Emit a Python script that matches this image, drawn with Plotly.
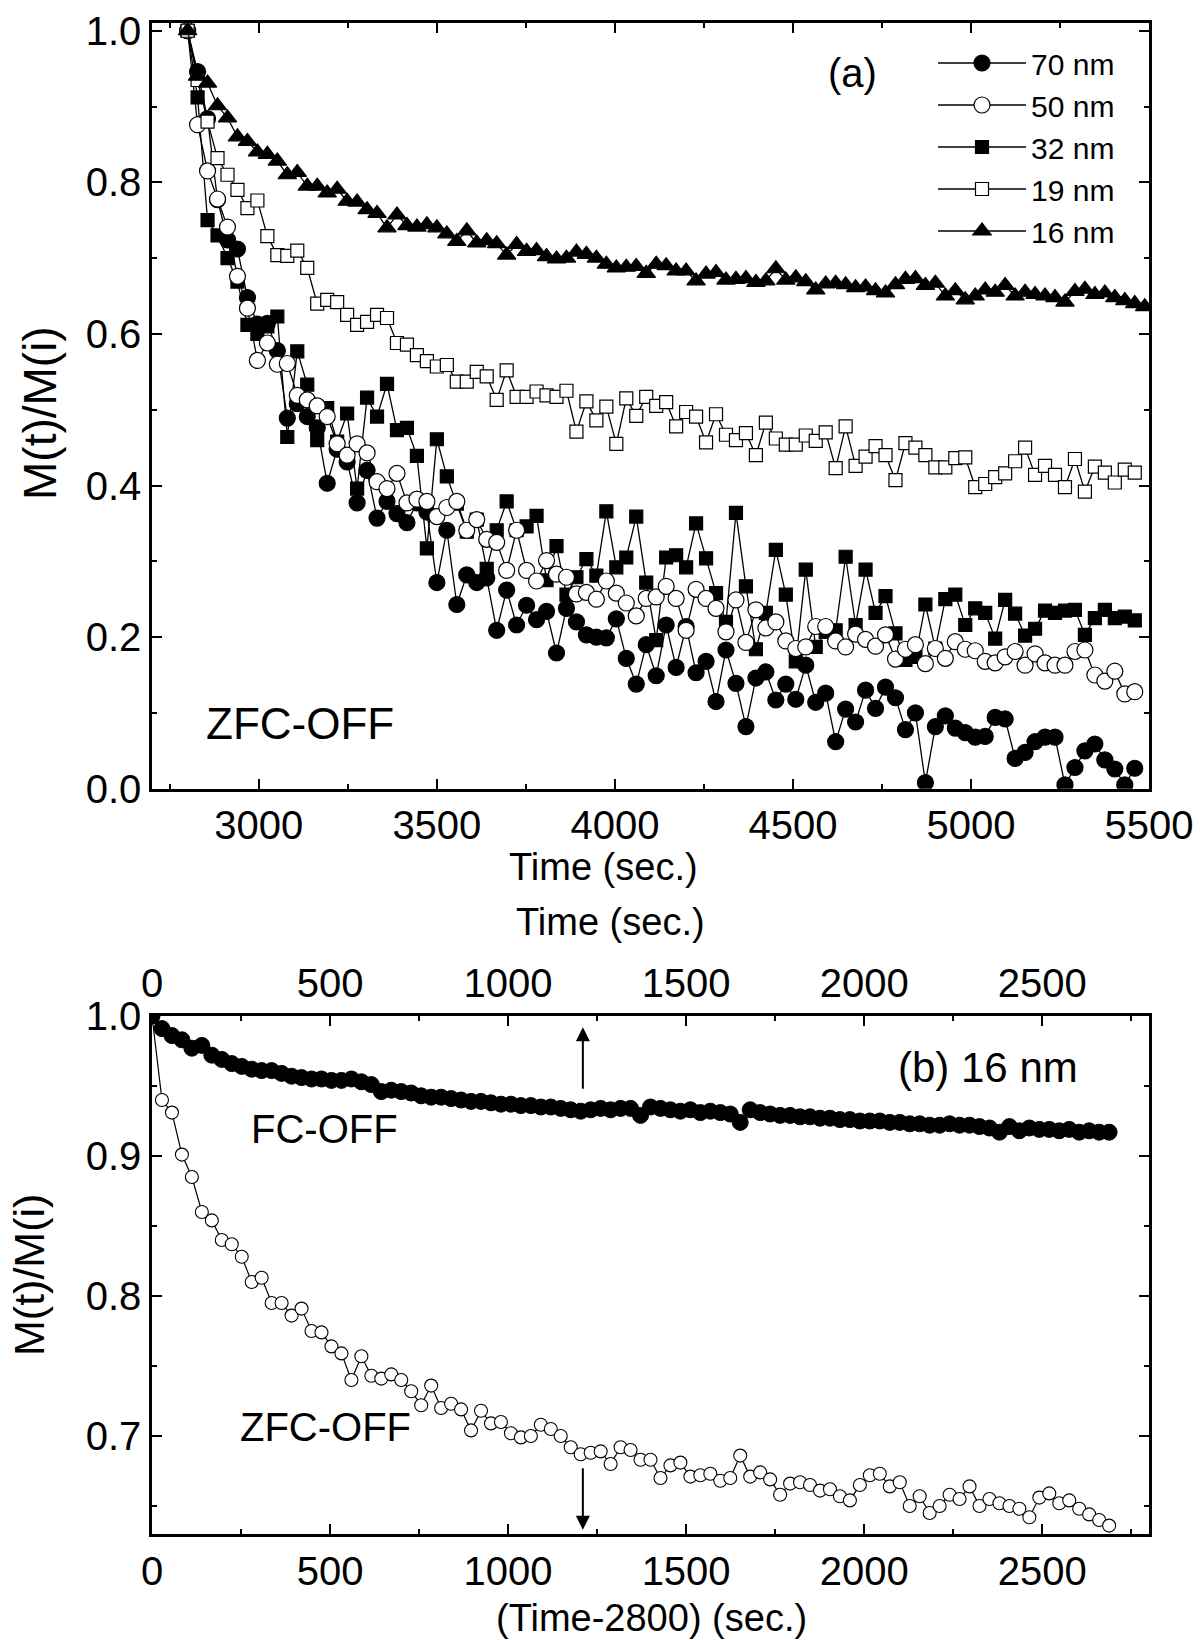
import plotly.graph_objects as go

# ---------------- data ----------------
t_rel = [0, 28, 56, 84, 112, 140, 168, 196, 224, 252, 280, 308, 336, 364, 392, 420,
         448, 476, 504, 532, 560, 588, 616, 644, 672, 700, 728, 756, 784, 812, 840,
         868, 896, 924, 952, 980, 1008, 1036, 1064, 1092, 1120, 1148, 1176, 1204,
         1232, 1260, 1288, 1316, 1344, 1372, 1400, 1428, 1456, 1484, 1512, 1540,
         1568, 1596, 1624, 1652, 1680, 1708, 1736, 1764, 1792, 1820, 1848, 1876,
         1904, 1932, 1960, 1988, 2016, 2044, 2072, 2100, 2128, 2156, 2184, 2212,
         2240, 2268, 2296, 2324, 2352, 2380, 2408, 2436, 2464, 2492, 2520, 2548,
         2576, 2604, 2632, 2660, 2688]
time_offset = 2800
time_top = [time_offset + t for t in t_rel]

m70 = [1.0, 0.946, 0.884, 0.777, 0.724, 0.712, 0.648, 0.613, 0.614, 0.578,
       0.489, 0.508, 0.491, 0.476, 0.403, 0.448, 0.431, 0.377, 0.420, 0.357,
       0.379, 0.363, 0.351, 0.377, 0.365, 0.272, 0.341, 0.243, 0.282, 0.272,
       0.278, 0.209, 0.262, 0.216, 0.242, 0.223, 0.234, 0.179, 0.238, 0.220,
       0.203, 0.200, 0.199, 0.224, 0.172, 0.138, 0.190, 0.149, 0.216, 0.160,
       0.214, 0.153, 0.168, 0.115, 0.183, 0.139, 0.082, 0.146, 0.154, 0.117,
       0.138, 0.118, 0.163, 0.114, 0.126, 0.062, 0.105, 0.088, 0.130, 0.106,
       0.134, 0.120, 0.078, 0.100, 0.008, 0.082, 0.096, 0.080, 0.074, 0.068,
       0.069, 0.094, 0.092, 0.040, 0.048, 0.062, 0.068, 0.068, 0.005, 0.028,
       0.050, 0.059, 0.038, 0.026, 0.005, 0.027]

m50 = [1.0, 0.876, 0.815, 0.778, 0.741, 0.676, 0.634, 0.565, 0.588, 0.560,
       0.561, 0.519, 0.513, 0.505, 0.491, 0.455, 0.440, 0.455, 0.443, 0.405,
       0.396, 0.416, 0.377, 0.382, 0.379, 0.359, 0.371, 0.379, 0.341, 0.355,
       0.329, 0.325, 0.288, 0.341, 0.288, 0.274, 0.301, 0.283, 0.279, 0.257,
       0.259, 0.250, 0.274, 0.258, 0.245, 0.228, 0.251, 0.253, 0.267, 0.251,
       0.209, 0.263, 0.251, 0.238, 0.207, 0.249, 0.193, 0.236, 0.212, 0.220,
       0.195, 0.185, 0.187, 0.214, 0.214, 0.195, 0.187, 0.204, 0.197, 0.188,
       0.203, 0.171, 0.184, 0.190, 0.165, 0.185, 0.172, 0.194, 0.184, 0.182,
       0.168, 0.166, 0.174, 0.181, 0.163, 0.178, 0.166, 0.163, 0.163, 0.181,
       0.183, 0.150, 0.142, 0.155, 0.125, 0.128]

m32 = [1.0, 0.912, 0.750, 0.730, 0.700, 0.669, 0.612, 0.600, 0.610, 0.623,
       0.464, 0.577, 0.533, 0.460, 0.502, 0.458, 0.495, 0.396, 0.516, 0.491,
       0.534, 0.473, 0.476, 0.439, 0.317, 0.461, 0.412, 0.376, 0.339, 0.355,
       0.290, 0.341, 0.379, 0.341, 0.346, 0.360, 0.275, 0.320, 0.256, 0.279,
       0.303, 0.281, 0.366, 0.292, 0.305, 0.359, 0.272, 0.196, 0.305, 0.308,
       0.292, 0.350, 0.304, 0.258, 0.220, 0.364, 0.267, 0.184, 0.232, 0.315,
       0.256, 0.168, 0.289, 0.187, 0.207, 0.209, 0.306, 0.216, 0.289, 0.232,
       0.254, 0.205, 0.170, 0.174, 0.243, 0.185, 0.250, 0.256, 0.216, 0.238,
       0.232, 0.198, 0.249, 0.231, 0.202, 0.211, 0.235, 0.232, 0.235, 0.236,
       0.203, 0.225, 0.236, 0.225, 0.227, 0.222]

m19 = [1.0, 0.935, 0.880, 0.832, 0.810, 0.790, 0.766, 0.776, 0.729, 0.704,
       0.703, 0.710, 0.687, 0.640, 0.645, 0.642, 0.625, 0.612, 0.616, 0.625,
       0.621, 0.588, 0.586, 0.572, 0.564, 0.557, 0.559, 0.537, 0.537, 0.550,
       0.544, 0.513, 0.552, 0.517, 0.517, 0.524, 0.519, 0.517, 0.525, 0.471,
       0.511, 0.486, 0.504, 0.455, 0.515, 0.492, 0.517, 0.505, 0.510, 0.478,
       0.497, 0.491, 0.457, 0.494, 0.467, 0.460, 0.469, 0.440, 0.483, 0.462,
       0.454, 0.454, 0.466, 0.459, 0.470, 0.423, 0.478, 0.426, 0.438, 0.452,
       0.440, 0.407, 0.456, 0.450, 0.440, 0.424, 0.424, 0.436, 0.437, 0.398,
       0.402, 0.411, 0.416, 0.432, 0.450, 0.414, 0.426, 0.414, 0.398, 0.435,
       0.392, 0.425, 0.417, 0.404, 0.421, 0.417]

m16_zfc = [1.0, 0.940, 0.931, 0.901, 0.885, 0.860, 0.854, 0.840, 0.837, 0.828,
           0.810, 0.813, 0.795, 0.795, 0.786, 0.791, 0.775, 0.774, 0.764, 0.759,
           0.740, 0.757, 0.743, 0.741, 0.744, 0.740, 0.732, 0.722, 0.736, 0.720,
           0.723, 0.719, 0.704, 0.718, 0.709, 0.710, 0.702, 0.699, 0.700, 0.708,
           0.705, 0.700, 0.692, 0.687, 0.688, 0.689, 0.680, 0.692, 0.690, 0.683,
           0.683, 0.670, 0.679, 0.681, 0.671, 0.672, 0.673, 0.668, 0.670, 0.686,
           0.671, 0.674, 0.669, 0.658, 0.666, 0.667, 0.665, 0.661, 0.662, 0.657,
           0.654, 0.665, 0.672, 0.673, 0.664, 0.667, 0.650, 0.657, 0.645, 0.650,
           0.658, 0.655, 0.664, 0.650, 0.655, 0.652, 0.650, 0.648, 0.642, 0.656,
           0.659, 0.652, 0.654, 0.648, 0.644, 0.640, 0.636]

m16_fc = [1.0, 0.991, 0.986, 0.983, 0.977, 0.979, 0.972, 0.969, 0.966, 0.964,
          0.962, 0.961, 0.961, 0.959, 0.957, 0.956, 0.955, 0.955, 0.954, 0.954,
          0.955, 0.953, 0.951, 0.946, 0.947, 0.946, 0.945, 0.943, 0.942, 0.942,
          0.941, 0.940, 0.939, 0.939, 0.938, 0.937, 0.937, 0.936, 0.936, 0.935,
          0.935, 0.934, 0.933, 0.932, 0.933, 0.934, 0.933, 0.934, 0.934, 0.929,
          0.935, 0.934, 0.933, 0.932, 0.933, 0.931, 0.932, 0.931, 0.930, 0.924,
          0.933, 0.931, 0.930, 0.929, 0.929, 0.928, 0.928, 0.927, 0.927, 0.926,
          0.926, 0.925, 0.925, 0.925, 0.924, 0.924, 0.923, 0.923, 0.922, 0.922,
          0.923, 0.922, 0.922, 0.921, 0.920, 0.917, 0.921, 0.918, 0.920, 0.919,
          0.919, 0.918, 0.919, 0.917, 0.918, 0.917, 0.917]

arrow_time = 1210

# ---------------- figure ----------------
W, H = 1202, 1640
FONT = "Liberation Sans, Arial, sans-serif"


def px(x):
    return x / W


def py(y):
    return 1 - y / H


XD = [px(152), px(1149)]
YD_TOP = [py(788.7), py(23.3)]
YD_BOT = [py(1534), py(1016)]

fig = go.Figure()

# draw order (legend order fixed with legendrank)
top_series = [
    ("32 nm", m32, "square", "black", 13, 3),
    ("70 nm", m70, "circle", "black", 16, 1),
    ("50 nm", m50, "circle", "white", 16, 2),
    ("19 nm", m19, "square", "white", 13, 4),
    ("16 nm", m16_zfc, "triangle-up", "black", 16, 5),
]
for name, vals, sym, fill, size, rank in top_series:
    fig.add_trace(go.Scatter(
        x=time_top[:len(vals)], y=vals, mode="lines+markers", name=name,
        legendrank=rank,
        line=dict(color="black", width=1.3),
        marker=dict(symbol=sym, size=size, color=fill,
                    line=dict(color="black", width=1.2)),
        xaxis="x", yaxis="y"))

fig.add_trace(go.Scatter(
    x=t_rel, y=m16_zfc, mode="lines+markers", showlegend=False,
    line=dict(color="black", width=1.2),
    marker=dict(symbol="circle", size=13, color="white",
                line=dict(color="black", width=1.1)),
    xaxis="x2", yaxis="y2"))
fig.add_trace(go.Scatter(
    x=t_rel, y=m16_fc, mode="lines+markers", showlegend=False,
    line=dict(color="black", width=1.2),
    marker=dict(symbol="circle", size=16, color="black",
                line=dict(color="black", width=1)),
    xaxis="x3", yaxis="y2"))

tickfont = dict(family=FONT, size=40, color="black")
base = dict(showline=True, linecolor="black", linewidth=2.5, ticks="inside",
            tickcolor="black", tickwidth=2, ticklen=10, showgrid=False,
            zeroline=False, tickfont=tickfont, automargin=False)


def minor(d, t0):
    return dict(ticks="inside", ticklen=5, tickwidth=2, tickcolor="black",
                dtick=d, tick0=t0, showgrid=False)


fig.update_layout(
    width=W, height=H, margin=dict(l=0, r=0, t=0, b=0, autoexpand=False),
    paper_bgcolor="white", plot_bgcolor="white",
    font=dict(family=FONT, color="black"),
    xaxis=dict(base, domain=XD, anchor="y", range=[2700, 5500],
               tickmode="linear", tick0=3000, dtick=500, mirror="ticks",
               minor=minor(250, 2750)),
    yaxis=dict(base, domain=YD_TOP, anchor="x", range=[0, 1.0098],
               tickmode="linear", tick0=0, dtick=0.2, tickformat=".1f",
               mirror="ticks", minor=minor(0.1, 0)),
    xaxis2=dict(base, domain=XD, anchor="y2", range=[0, 2800],
                tickmode="linear", tick0=0, dtick=500, mirror=False,
                minor=minor(250, 0)),
    xaxis3=dict(base, overlaying="x2", side="top", anchor="y2",
                range=[0, 2800], tickmode="linear", tick0=0, dtick=500,
                minor=minor(250, 0)),
    yaxis2=dict(base, domain=YD_BOT, anchor="x2", range=[0.63, 1.0],
                tickmode="linear", tick0=0, dtick=0.1, tickformat=".1f",
                mirror="ticks", minor=minor(0.05, 0.65)),
    legend=dict(x=px(933), y=py(37), xanchor="left", yanchor="top",
                bgcolor="rgba(0,0,0,0)", borderwidth=0,
                font=dict(family=FONT, size=30, color="black"),
                itemwidth=88, tracegroupgap=0),
    showlegend=True,
)

ann = []


def text(t, x, y, size, angle=0):
    ann.append(dict(text=t, x=px(x), y=py(y), xref="paper", yref="paper",
                    showarrow=False, textangle=angle,
                    font=dict(family=FONT, size=size, color="black"),
                    xanchor="center", yanchor="middle"))


text("Time (sec.)", 603, 867, 38)
text("Time (sec.)", 610, 922, 38)
text("(Time-2800) (sec.)", 651, 1618, 38)
text("M(t)/M(i)", 40, 413, 46, -90)
text("M(t)/M(i)", 29, 1275, 43, -90)
text("(a)", 852, 73, 40)
text("ZFC-OFF", 300, 723, 44)
text("(b) 16 nm", 988, 1067, 42)
text("FC-OFF", 324, 1129, 40)
text("ZFC-OFF", 325, 1427, 40)

for tip, tail in [(0.992, 0.947), (0.633, 0.678)]:
    ann.append(dict(x=arrow_time, y=tip, ax=arrow_time, ay=tail,
                    xref="x2", yref="y2", axref="x2", ayref="y2",
                    text="", showarrow=True, arrowhead=2, arrowsize=1.4,
                    arrowwidth=2, arrowcolor="black"))

fig.update_layout(annotations=ann)

fig.write_html("out.html", config={"displayModeBar": False},
               post_script="document.body.style.margin='0';")
